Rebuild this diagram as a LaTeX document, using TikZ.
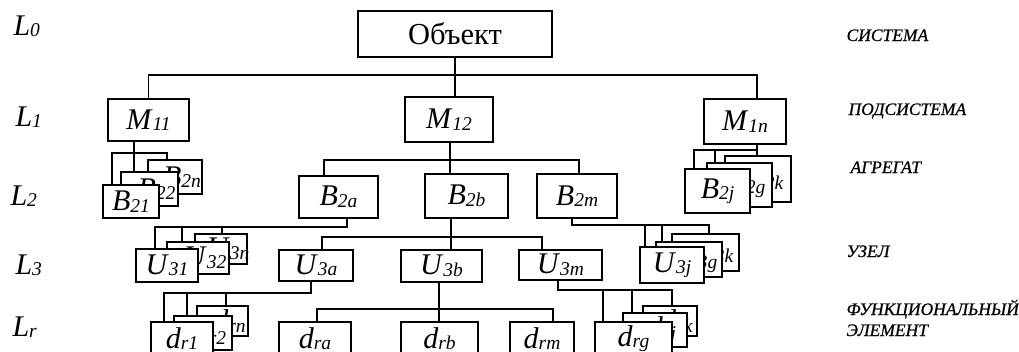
\documentclass[tikz,border=0pt]{standalone}
\usepackage{fontspec}
\setmainfont{Liberation Serif}
\newfontfamily\tagfont[FakeBold=0.6]{Liberation Serif Italic}
% italic letter with a smaller italic index set on (almost) the same baseline
\newcommand\ix[2]{\textit{#1}\raisebox{-1.5pt}{\fontsize{19.5}{20}\selectfont\textit{#2}}}
% label of a box lying behind others: text pushed to the right
\newcommand\bk[1]{\makebox[0pt]{\hspace*{14pt}#1}}
% vertical drop from a point up/down to the level of a bus coordinate
\newcommand\dropto[2]{\coordinate (p) at (#1); \draw (p) -- (p |- #2);}
\begin{document}
\begin{tikzpicture}[x=1pt,y=-1pt,line width=1.1pt,
  box/.style={draw, fill=white, inner sep=0pt, font=\fontsize{30}{31}\selectfont},
  sz/.style 2 args={minimum width=#1pt, minimum height=#2pt},
  lvl/.style={anchor=base west, inner sep=0pt, font=\fontsize{30}{31}\selectfont},
  tag/.style={anchor=base west, inner sep=0pt, font=\fontsize{17.5}{18}\tagfont}]
\useasboundingbox (0,0) rectangle (1019,351);
\clip (0,0) rectangle (1019,351);

% level names
\node[lvl] (l0) at (13,35)  {\ix{L}{0}};
\node[lvl] (l1) at (15,126) {\ix{L}{1}};
\node[lvl] (l2) at (10,205) {\ix{L}{2}};
\node[lvl] (l3) at (15,274) {\ix{L}{3}};
\node[lvl] (lr) at (12,336) {\ix{L}{r}};

% level captions
\node[tag] (t0) at (846,41)  {СИСТЕМА};
\node[tag] (t1) at (848,115) {ПОДСИСТЕМА};
\node[tag] (t2) at (850,173) {АГРЕГАТ};
\node[tag] (t3) at (846,257) {УЗЕЛ};
\node[tag] (t4) at (846,315) {ФУНКЦИОНАЛЬНЫЙ};
\node[tag] (t5) at (846,336) {ЭЛЕМЕНТ};

% level 0
\node[box,sz={194}{46},font=\fontsize{30.5}{31}\selectfont] (obj) at (455,34) {Объект};

% level 1
\node[box,sz={81}{42}] (m11) at (148.5,120)   {\ix{M}{11}};
\node[box,sz={88}{45}] (m12) at (449,119.5)   {\ix{M}{12}};
\node[box,sz={82}{45}] (m1n) at (745,121.5)   {\ix{M}{1n}};

% level 2
\node[box,sz={54}{34}] (b2n) at (175,177)     {\bk{\ix{B}{2n}}};
\node[box,sz={57}{34}] (b22) at (149.5,189)   {\bk{\ix{B}{22}}};
\node[box,sz={56}{33}] (b21) at (131,201.5)   {\ix{B}{21}};
\node[box,sz={79}{42}] (b2a) at (338.5,197)   {\ix{B}{2a}};
\node[box,sz={83}{44}] (b2b) at (466.5,196)   {\ix{B}{2b}};
\node[box,sz={80}{44}] (b2m) at (577,196)     {\ix{B}{2m}};
\node[box,sz={66}{46}] (b2k) at (758,179)     {\bk{\ix{B}{2k}}};
\node[box,sz={65}{44}] (b2g) at (739.5,185)   {\bk{\ix{B}{2g}}};
\node[box,sz={65}{44}] (b2j) at (717.5,191)   {\ix{B}{2j}};

% level 3
\node[box,sz={52}{30}] (u3n) at (221,249)     {\bk{\ix{U}{3n}}};
\node[box,sz={62}{32}] (u32) at (198,258)     {\bk{\ix{U}{32}}};
\node[box,sz={62}{33}] (u31) at (167,265.5)   {\ix{U}{31}};
\node[box,sz={74}{31}] (u3a) at (316,265.5)   {\ix{U}{3a}};
\node[box,sz={81}{32}] (u3b) at (441.5,266)   {\ix{U}{3b}};
\node[box,sz={83}{30}] (u3m) at (560.5,265)   {\ix{U}{3m}};
\node[box,sz={67}{37}] (u3k) at (705.5,252.5) {\bk{\ix{U}{3k}}};
\node[box,sz={66}{35}] (u3g) at (689,259.5)   {\bk{\ix{U}{3g}}};
\node[box,sz={64}{36}] (u3j) at (672,265)     {\ix{U}{3j}};

% level r
\node[box,sz={51}{30}] (drn) at (222.5,321)   {\bk{\ix{d}{rn}}};
\node[box,sz={58}{34}] (dr2) at (203,333)     {\bk{\ix{d}{r2}}};
\node[box,sz={62}{33}] (dr1) at (182,338.5)   {\ix{d}{r1}};
\node[box,sz={72}{33}] (dra) at (315,338.5)   {\ix{d}{ra}};
\node[box,sz={77}{33}] (drb) at (439.5,338.5) {\ix{d}{rb}};
\node[box,sz={64}{33}] (drm) at (542,338.5)   {\ix{d}{rm}};
\node[box,sz={54}{30}] (drk) at (670,321)     {\bk{\ix{d}{rk}}};
\node[box,sz={64}{34}] (drj) at (655,330)     {\bk{\ix{d}{rj}}};
\node[box,sz={77}{33}] (drg) at (633.5,338.5) {\ix{d}{rg}};

% object -> subsystems
\coordinate (j0) at (455,75);
\draw (obj.south) -- (obj.south |- m12.north);
\draw (m11.north) |- (j0) -| ([xshift=12pt]m1n.north);

% M11 -> B21, B22, B2n
\coordinate (j1) at (134,153);
\draw ([xshift=-14.5pt]m11.south) -- ([xshift=-15.5pt]b22.north);
\draw ([xshift=-19pt]b21.north) |- (j1) -| ([xshift=-8pt]b2n.north);

% M12 -> B2a, B2b, B2m
\coordinate (j2) at (450,160);
\draw ([xshift=1pt]m12.south) -- ([xshift=-16.5pt]b2b.north);
\draw ([xshift=-14.5pt]b2a.north) |- (j2) -| ([xshift=2pt]b2m.north);

% M1n -> B2j, B2g, B2k
\coordinate (j3) at (757,150);
\draw ([xshift=12pt]m1n.south) -- ([xshift=-1pt]b2k.north);
\draw ([xshift=-23.5pt]b2j.north) |- (j3);
\dropto{[xshift=-24.5pt]b2g.north}{j3}

% B2a -> U31, U32, U3n
\coordinate (j4) at (347,227);
\draw ([xshift=8.5pt]b2a.south) -- (j4) -| ([xshift=-12pt]u31.north);
\dropto{[xshift=-16pt]u32.north}{j4}
\dropto{[xshift=1pt]u3n.north}{j4}

% B2b -> U3a, U3b, U3m
\coordinate (j5) at (451,237);
\draw ([xshift=-15.5pt]b2b.south) -- ([xshift=9.5pt]u3b.north);
\draw ([xshift=6pt]u3a.north) |- (j5) -| ([xshift=-18.5pt]u3m.north);

% B2m -> U3j, U3g, U3k
\coordinate (j6) at (572,225);
\draw ([xshift=-5pt]b2m.south) -- (j6) -| ([xshift=3.5pt]u3k.north);
\dropto{[xshift=-27pt]u3j.north}{j6}
\dropto{[xshift=-27pt]u3g.north}{j6}

% U3a -> dr1, dr2, drn
\coordinate (j7) at (311,293);
\draw ([xshift=-5pt]u3a.south) -- (j7) -| ([xshift=-18pt]dr1.north);
\dropto{[xshift=-16pt]dr2.north}{j7}
\dropto{[xshift=3.5pt]drn.north}{j7}

% U3b -> dra, drb, drm
\coordinate (j8) at (439,309);
\draw ([xshift=-2.5pt]u3b.south) -- ([xshift=-0.5pt]drb.north);
\draw ([xshift=2pt]dra.north) |- (j8) -| ([xshift=11pt]drm.north);

% U3m -> drg, drj, drk
\coordinate (j9) at (558,290);
\draw ([xshift=-2.5pt]u3m.south) -- (j9) -| ([xshift=2pt]drk.north);
\dropto{[xshift=-30.5pt]drg.north}{j9}
\dropto{[xshift=-23pt]drj.north}{j9}
\end{tikzpicture}
\end{document}
